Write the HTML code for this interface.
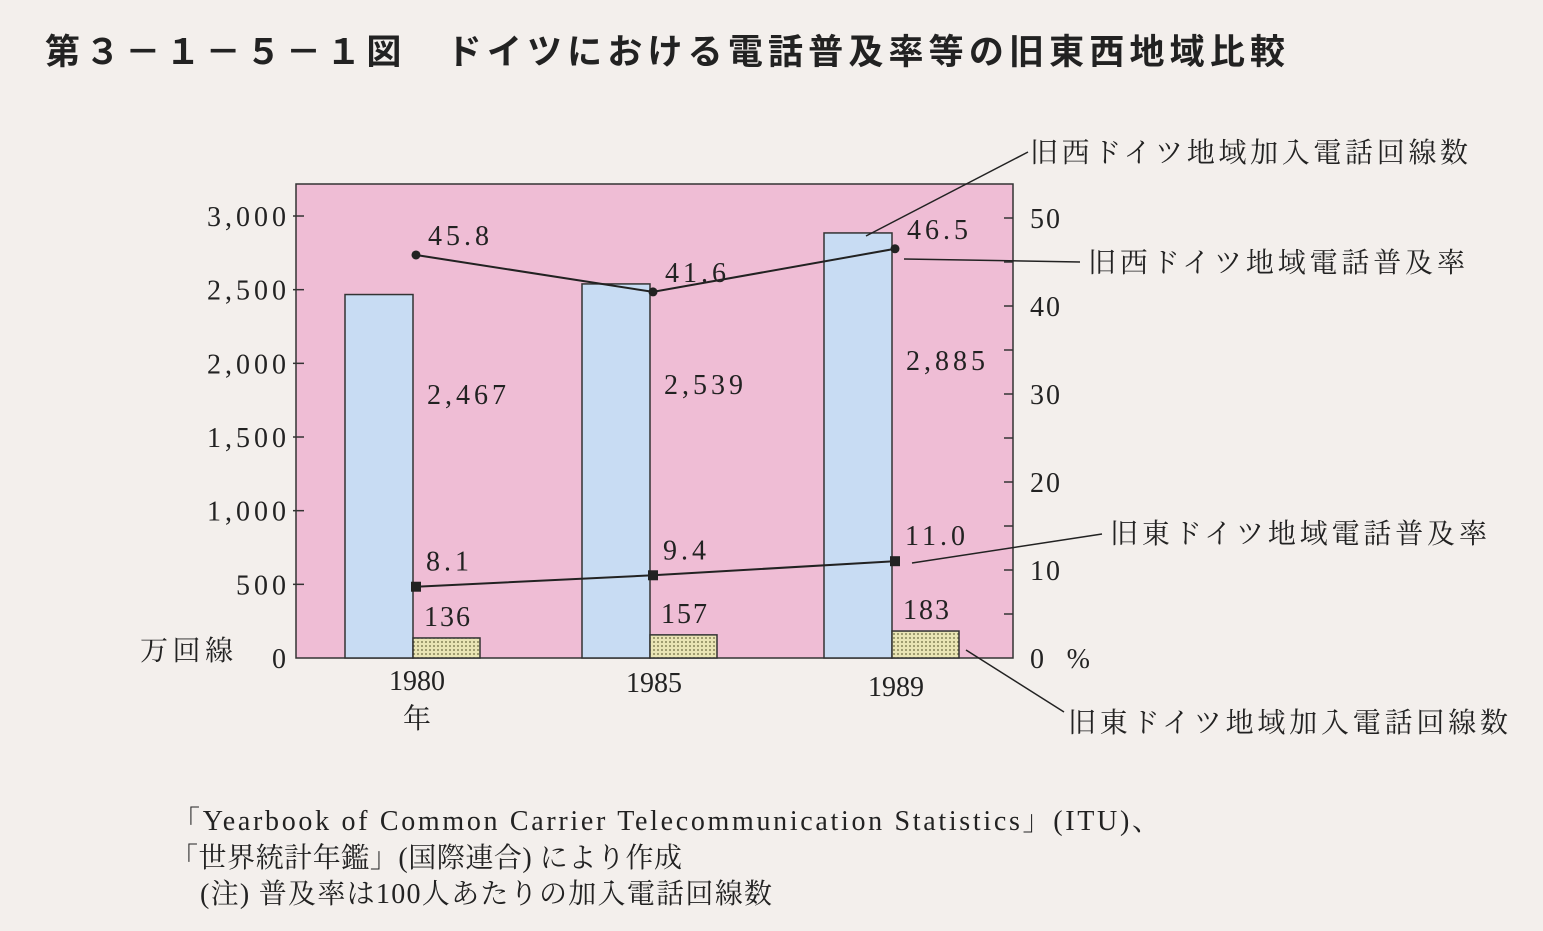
<!DOCTYPE html>
<html><head><meta charset="utf-8"><style>
body{margin:0;background:#f3efec;width:1543px;height:931px;overflow:hidden;font-family:"Liberation Serif","Noto Serif CJK SC",serif;}
svg{display:block}
</style></head><body>
<svg width="1543" height="931">
<defs><pattern id="dots" width="4" height="4" patternUnits="userSpaceOnUse"><rect width="4" height="4" fill="#e9e4b4"/><circle cx="2" cy="2" r="0.9" fill="#6a6a40"/></pattern></defs>
<text x="45" y="64" textLength="1240" lengthAdjust="spacing" font-family="Liberation Sans,Noto Sans CJK JP,sans-serif" font-weight="bold" font-size="35" fill="#222">第３－１－５－１図　ドイツにおける電話普及率等の旧東西地域比較</text>
<rect x="296" y="184" width="717" height="474" fill="#efbdd5" stroke="#333" stroke-width="1.5"/>
<g id="g"></g>
<g font-size="28" fill="#222" font-family="Liberation Serif,Noto Serif CJK JP,serif">
<text x="140" y="660" textLength="93" lengthAdjust="spacing">万回線</text>
<text x="1030" y="668" textLength="60" lengthAdjust="spacing">0 %</text>
<text x="403" y="728">年</text>
<text x="1030" y="162" textLength="438" lengthAdjust="spacing">旧西ドイツ地域加入電話回線数</text>
<text x="1088" y="272" textLength="377" lengthAdjust="spacing">旧西ドイツ地域電話普及率</text>
<text x="1110" y="543" textLength="377" lengthAdjust="spacing">旧東ドイツ地域電話普及率</text>
<text x="1068" y="732" textLength="440" lengthAdjust="spacing">旧東ドイツ地域加入電話回線数</text>
<text x="172" y="830" textLength="988" lengthAdjust="spacing">「Yearbook of Common Carrier Telecommunication Statistics」(ITU)、</text>
<text x="170" y="867" textLength="512" lengthAdjust="spacing">「世界統計年鑑」(国際連合) により作成</text>
<text x="200" y="903" textLength="572" lengthAdjust="spacing">(注) 普及率は100人あたりの加入電話回線数</text>
</g>
<g stroke="#222" stroke-width="1.5" fill="none">
<line x1="1028" y1="152" x2="866" y2="236"/>
<line x1="1080" y1="262" x2="904" y2="259"/>
<line x1="1102" y1="534" x2="912" y2="563"/>
<line x1="1064" y1="712" x2="966" y2="650"/>
</g>
</svg>
<script>
const years=["1980","1985","1989"];
const westLines=[2467,2539,2885];
const eastLines=[136,157,183];
const westRate=[45.8,41.6,46.5];
const eastRate=[8.1,9.4,11.0];
const leftTicks=[0,500,1000,1500,2000,2500,3000];
const rightTicks=[10,20,30,40,50];
const NS="http://www.w3.org/2000/svg",g=document.getElementById('g');
const yL=v=>658-v*0.14733, yR=v=>658-v*8.8;
const xs=[345,582,824];
const fmt=v=>v.toLocaleString('en-US');
function el(t,a,txt){const e=document.createElementNS(NS,t);for(const k in a)e.setAttribute(k,a[k]);if(txt!==undefined)e.textContent=txt;g.appendChild(e);return e;}
leftTicks.forEach(v=>{const y=yL(v);
 if(v>0){const t=el('line',{x1:293,x2:304,y1:y,y2:y,stroke:'#333','stroke-width':1.5});}
 const l=el('text',{x:290,y:y+10,'text-anchor':'end','font-size':28,'letter-spacing':4,fill:'#222'},fmt(v));
 });
for(let v=5;v<=50;v+=5){const y=yR(v);const t=el('line',{x1:1004,x2:1013,y1:y,y2:y,stroke:'#333','stroke-width':1.5});}
rightTicks.forEach(v=>{const l=el('text',{x:1030,y:yR(v)+10,'font-size':28,'letter-spacing':2,fill:'#222'},v);});
years.forEach((yr,i)=>{const x=xs[i];
 const b=el('rect',{x:x,y:yL(westLines[i]),width:68,height:658-yL(westLines[i]),fill:'#c8dcf3',stroke:'#333','stroke-width':1.5});
 
 const e=el('rect',{x:x+68,y:yL(eastLines[i]),width:67,height:658-yL(eastLines[i]),fill:'url(#dots)',stroke:'#333','stroke-width':1.5});
 
 const t1=el('text',{x:x+82,y:[404,394,370][i],'font-size':28,'letter-spacing':4,fill:'#222'},fmt(westLines[i]));
 
 const t2=el('text',{x:x+103,y:yL(eastLines[i])-12,'text-anchor':'middle','font-size':28,'letter-spacing':2,fill:'#222'},eastLines[i]);
 
 const xl=el('text',{x:x+72,y:[690,692,696][i],'text-anchor':'middle','font-size':28,fill:'#222'},yr);
 
});
const px=i=>xs[i]+71;
const lw=el('polyline',{points:westRate.map((v,i)=>px(i)+','+yR(v)).join(' '),fill:'none',stroke:'#222','stroke-width':2});

const le=el('polyline',{points:eastRate.map((v,i)=>px(i)+','+yR(v)).join(' '),fill:'none',stroke:'#222','stroke-width':2});

westRate.forEach((v,i)=>{const c=el('circle',{cx:px(i),cy:yR(v),r:4.5,fill:'#222'});
 const t=el('text',{x:px(i)+12,y:yR(v)-10,'font-size':28,'letter-spacing':4,fill:'#222'},v.toFixed(1));});
eastRate.forEach((v,i)=>{const s=el('rect',{x:px(i)-5,y:yR(v)-5,width:10,height:10,fill:'#222'});
 const t=el('text',{x:px(i)+10,y:yR(v)-16,'font-size':28,'letter-spacing':4,fill:'#222'},v.toFixed(1));});
</script>
</body></html>
